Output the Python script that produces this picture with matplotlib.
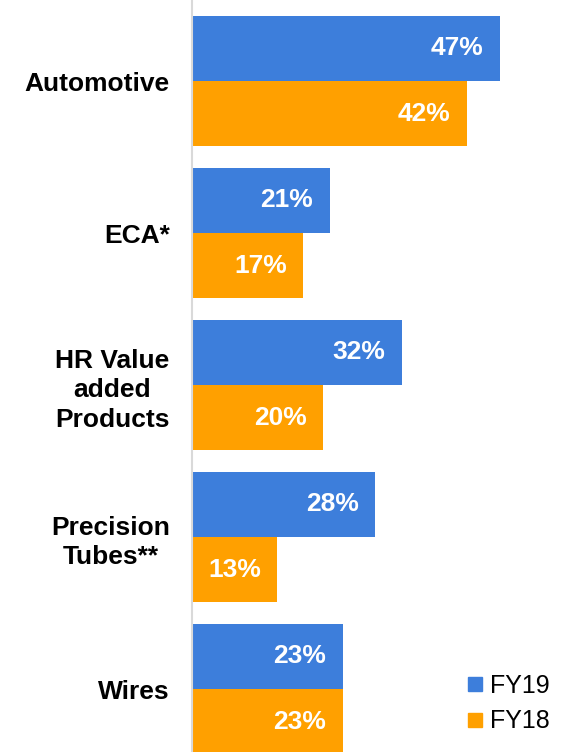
import numpy as np
import matplotlib.pyplot as plt
from matplotlib.lines import Line2D

plt.rcParams['font.family'] = ['Liberation Sans', 'DejaVu Sans']

categories = ['Automotive', 'ECA*', 'HR Value\nadded\nProducts', 'Precision\nTubes**', 'Wires']
fy19 = [47, 21, 32, 28, 23]
fy18 = [42, 17, 20, 13, 23]

blue = '#3d7edb'
orange = '#ffa000'

fig = plt.figure(figsize=(5.72, 7.52), dpi=100)
ax = fig.add_axes([192 / 572, 0, 380 / 572, 1])

y = np.arange(len(categories))
h = 0.43
ax.barh(y - h / 2, fy19, height=h, color=blue, label='FY19')
ax.barh(y + h / 2, fy18, height=h, color=orange, label='FY18')

for i in range(len(categories)):
    ax.text(fy19[i] - 2.5, y[i] - h / 2, '%d%%' % fy19[i], color='white',
            fontsize=19, fontweight='bold', ha='right', va='center')
    ax.text(fy18[i] - 2.5, y[i] + h / 2, '%d%%' % fy18[i], color='white',
            fontsize=19, fontweight='bold', ha='right', va='center')

ax.set_xlim(0, 58)
ax.set_ylim(4.414, -0.533)
ax.set_yticks(y)
ax.set_yticklabels(categories, fontsize=19, fontweight='bold',
                   multialignment='center', linespacing=1.3)
ax.tick_params(axis='y', length=0, pad=16)
ax.set_xticks([])
for s in ['top', 'right', 'bottom']:
    ax.spines[s].set_visible(False)
ax.spines['left'].set_color('#d9d9d9')
ax.spines['left'].set_linewidth(1.5)

handles = [Line2D([], [], marker='s', linestyle='', color=blue, markersize=10),
           Line2D([], [], marker='s', linestyle='', color=orange, markersize=10)]
ax.legend(handles, ['FY19', 'FY18'], loc='lower right', frameon=False,
          fontsize=18, handlelength=0.6, handletextpad=0.3, labelspacing=0.45,
          bbox_to_anchor=(1.0, -0.005))

fig.savefig('out.png', dpi=100)
